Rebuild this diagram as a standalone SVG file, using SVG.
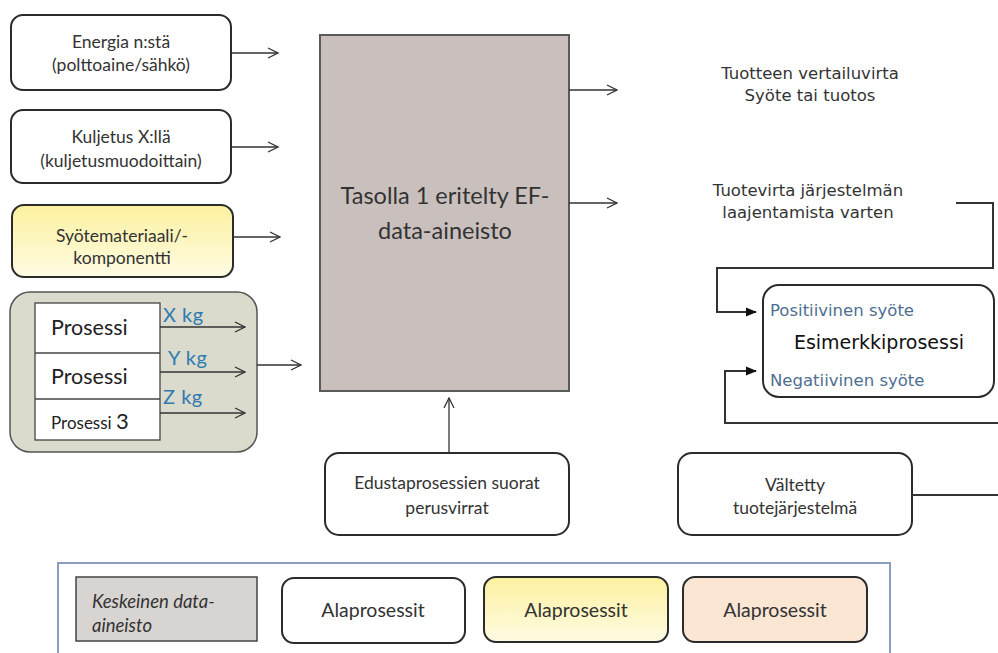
<svg xmlns="http://www.w3.org/2000/svg" width="998" height="653" viewBox="0 0 998 653">
<defs>
<marker id="open" viewBox="0 0 12 12" refX="11" refY="6" markerWidth="12" markerHeight="12" markerUnits="userSpaceOnUse" orient="auto">
<path d="M1,1 L11,6 L1,11" fill="none" stroke="#333" stroke-width="1.3"/>
</marker>
<marker id="filled" viewBox="0 0 12 12" refX="11" refY="6" markerWidth="11" markerHeight="11" markerUnits="userSpaceOnUse" orient="auto">
<path d="M0,1 L12,6 L0,11 Z" fill="#111"/>
</marker>
<linearGradient id="yel" x1="0" y1="0" x2="0" y2="1">
<stop offset="0" stop-color="#fcf1a0"/>
<stop offset="1" stop-color="#fffbe2"/>
</linearGradient>
</defs>
<style>
.box{fill:#fff;stroke:#2b2b2b;stroke-width:2}
.t{font-family:Lato,"Liberation Sans",sans-serif;fill:#333;text-anchor:middle;font-size:17.5px}
.v{font-family:"DejaVu Sans",Verdana,sans-serif;fill:#333;font-size:16.5px}
.ln{fill:none;stroke:#333;stroke-width:1.3}
.kg{font-family:Lato,"Liberation Sans",sans-serif;fill:#2f7ab0;font-size:20px;letter-spacing:0.5px}
.pr{font-family:Lato,"Liberation Sans",sans-serif;fill:#222;font-size:21.5px}
.leg{font-family:Lato,"Liberation Sans",sans-serif;fill:#333;text-anchor:middle;font-size:19.5px}
</style>
<rect width="998" height="653" fill="#fff"/>

<g id="energia">
<rect class="box" x="11" y="15" width="220" height="75" rx="12"/>
<text class="t" x="121" y="48">Energia n:stä</text>
<text class="t" x="121" y="71">(polttoaine/sähkö)</text>
</g>
<g id="kuljetus">
<rect class="box" x="11" y="110" width="220" height="73" rx="12"/>
<text class="t" x="121" y="143">Kuljetus X:llä</text>
<text class="t" x="121" y="167">(kuljetusmuodoittain)</text>
</g>
<g id="syote">
<rect class="box" x="12" y="205" width="221" height="72" rx="12" style="fill:url(#yel)"/>
<text class="t" x="122" y="242">Syötemateriaali/-</text>
<text class="t" x="122" y="264">komponentti</text>
</g>
<g id="prosessit">
<rect x="10" y="292" width="247" height="160" rx="20" fill="#dadbcd" stroke="#555" stroke-width="1.5"/>
<rect x="35" y="303" width="125" height="137" fill="#fff" stroke="#444" stroke-width="1.3"/>
<line x1="35" y1="353" x2="160" y2="353" stroke="#444" stroke-width="1.3"/>
<line x1="35" y1="399" x2="160" y2="399" stroke="#444" stroke-width="1.3"/>
<text class="pr" x="51" y="335">Prosessi</text>
<text class="pr" x="51" y="384">Prosessi</text>
<text class="pr" x="51" y="429" style="font-size:17px">Prosessi <tspan style="font-size:22px">3</tspan></text>
<text class="kg" x="163" y="322">X kg</text>
<text class="kg" x="168" y="365">Y kg</text>
<text class="kg" x="163" y="404">Z kg</text>
</g>
<g id="keskus">
<rect x="320" y="35" width="249" height="356" fill="#c9c0be" stroke="#5a5a5a" stroke-width="2"/>
<text class="t" x="445" y="204" style="font-size:23.5px">Tasolla 1 eritelty EF-</text>
<text class="t" x="445" y="239" style="font-size:23.5px">data-aineisto</text>
</g>
<g id="edusta">
<rect class="box" x="325" y="453" width="244" height="82" rx="14"/>
<text class="t" x="447" y="489">Edustaprosessien suorat</text>
<text class="t" x="447" y="514">perusvirrat</text>
</g>
<g id="vertailu">
<text class="v" x="810" y="79" text-anchor="middle">Tuotteen vertailuvirta</text>
<text class="v" x="810" y="101" text-anchor="middle">Syöte tai tuotos</text>
</g>
<g id="tuotevirta">
<text class="v" x="808" y="196" text-anchor="middle">Tuotevirta järjestelmän</text>
<text class="v" x="808" y="218" text-anchor="middle">laajentamista varten</text>
</g>
<g id="esimerkki">
<rect class="box" x="763" y="285" width="231" height="112" rx="16"/>
<text class="v" x="770" y="316" style="fill:#4e6e92;font-size:16.5px">Positiivinen syöte</text>
<text class="v" x="879" y="349" text-anchor="middle" style="fill:#111;font-size:19px">Esimerkkiprosessi</text>
<text class="v" x="770" y="386" style="fill:#4e6e92;font-size:16.5px">Negatiivinen syöte</text>
</g>
<g id="valtetty">
<rect class="box" x="678" y="453" width="234" height="82" rx="14"/>
<text class="t" x="795" y="491">Vältetty</text>
<text class="t" x="795" y="514">tuotejärjestelmä</text>
</g>

<g id="connectors">
<line class="ln" x1="231" y1="53" x2="278" y2="53" marker-end="url(#open)"/>
<line class="ln" x1="231" y1="147" x2="278" y2="147" marker-end="url(#open)"/>
<line class="ln" x1="233" y1="237" x2="280" y2="237" marker-end="url(#open)"/>
<line class="ln" x1="160" y1="327" x2="245" y2="327" marker-end="url(#open)"/>
<line class="ln" x1="160" y1="372" x2="245" y2="372" marker-end="url(#open)"/>
<line class="ln" x1="160" y1="413" x2="245" y2="413" marker-end="url(#open)"/>
<line class="ln" x1="257" y1="365" x2="301" y2="365" marker-end="url(#open)"/>
<line class="ln" x1="569" y1="90" x2="617" y2="90" marker-end="url(#open)"/>
<line class="ln" x1="569" y1="203" x2="617" y2="203" marker-end="url(#open)"/>
<line class="ln" x1="449" y1="453" x2="449" y2="398" marker-end="url(#open)"/>
<polyline class="ln" style="stroke-width:2" points="956,203 993,203 993,268 717,268 717,312 756,312" marker-end="url(#filled)"/>
<polyline class="ln" style="stroke-width:2" points="998,423 725,423 725,371 756,371" marker-end="url(#filled)"/>
<line class="ln" style="stroke-width:2" x1="912" y1="495" x2="998" y2="495"/>
</g>

<g id="legend">
<rect x="58" y="563" width="832" height="110" fill="#fff" stroke="#8a9cc0" stroke-width="2"/>
<g id="leg-keskeinen">
<rect x="76" y="577" width="181" height="64" fill="#d8d4d1" stroke="#444" stroke-width="1.5"/>
<text x="92" y="608" font-family="Lato,'Liberation Sans',sans-serif" font-size="18.5" font-style="italic" fill="#333">Keskeinen data-</text>
<text x="92" y="632" font-family="Lato,'Liberation Sans',sans-serif" font-size="18.5" font-style="italic" fill="#333">aineisto</text>
</g>
<g id="leg-valkoinen">
<rect class="box" x="282" y="578" width="183" height="65" rx="12"/>
<text class="leg" x="373" y="617">Alaprosessit</text>
</g>
<g id="leg-keltainen">
<rect class="box" x="484" y="577" width="184" height="65" rx="12" style="fill:url(#yel)"/>
<text class="leg" x="576" y="617">Alaprosessit</text>
</g>
<g id="leg-persikka">
<rect class="box" x="683" y="577" width="184" height="65" rx="12" style="fill:#fbe5d3"/>
<text class="leg" x="775" y="617">Alaprosessit</text>
</g>
</g>
</svg>
